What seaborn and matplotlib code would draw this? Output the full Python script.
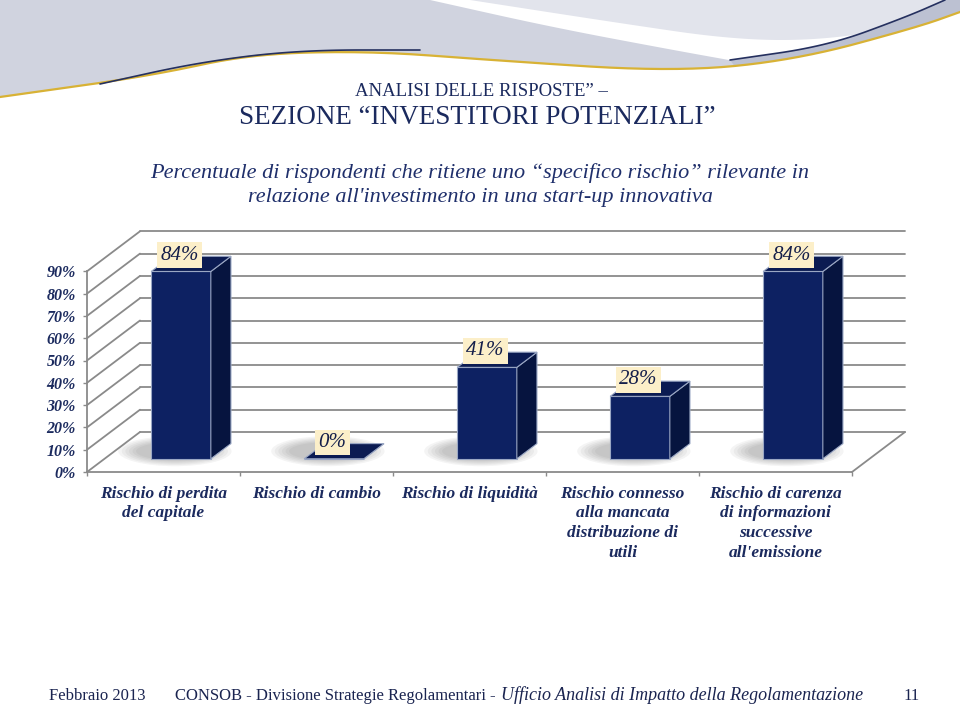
import numpy as np
import pandas as pd
import matplotlib
matplotlib.use("Agg")
import matplotlib.pyplot as plt
from matplotlib.patches import Polygon, Ellipse
import seaborn as sns

# -------------------------------
# Data
# -------------------------------
categories = ["Rischio di perdita\ndel capitale",
              "Rischio di cambio",
              "Rischio di liquidità",
              "Rischio connesso\nalla mancata\ndistribuzione di\nutili",
              "Rischio di carenza\ndi informazioni\nsuccessive\nall'emissione"]
values = [84, 0, 41, 28, 84]
y_ticks = [0, 10, 20, 30, 40, 50, 60, 70, 80, 90]
y_labels = [f"{t}%" for t in y_ticks]

title1 = "ANALISI DELLE RISPOSTE\u201d \u2013"
title2 = "SEZIONE \u201cINVESTITORI POTENZIALI\u201d"
subtitle = ("Percentuale di rispondenti che ritiene uno \u201cspecifico rischio\u201d rilevante in\n"
            "relazione all'investimento in una start-up innovativa")

df = pd.DataFrame({"Rischio": categories, "Valore": values})

NAVY = "#1B2A5E"
FRONT = "#0D2162"
SIDE = "#06143F"
TOP = "#0B1B52"
GRID = "#8A8A8A"

sns.set_style("white")
plt.rcParams["font.family"] = ["Liberation Serif", "DejaVu Serif"]

fig = plt.figure(figsize=(9.6, 7.2), dpi=100)
fig.patch.set_facecolor("white")

# -------------------------------
# Background decoration (slide template swoosh), pixel coords
# -------------------------------
bg = fig.add_axes([0, 0, 1, 1], zorder=-5)
bg.set_xlim(0, 960)
bg.set_ylim(720, 0)
bg.axis("off")


def smooth(pts, n=20):
    pts = np.asarray(pts, float)
    mids = (pts[:-1] + pts[1:]) / 2
    out = [pts[0], mids[0]]
    t = np.linspace(0, 1, n)[1:, None]
    for i in range(1, len(pts) - 1):
        a, c, b = mids[i - 1], pts[i], mids[i]
        out.extend((1 - t) ** 2 * a + 2 * (1 - t) * t * c + t ** 2 * b)
    out.append(pts[-1])
    return np.array(out)


gold = smooth([(0, 97), (150, 76), (250, 54), (370, 51), (490, 60), (673, 72),
               (796, 60), (918, 27), (960, 12)])
left_edge = smooth([(430, 0), (551, 27), (673, 50), (740, 62)])
gold_left = gold[gold[:, 0] <= 740][::-1]
bg.add_patch(Polygon(np.vstack([[(0, 0)], left_edge, gold_left]),
                     closed=True, fc="#D0D3DF", ec="none"))
right_edge = smooth([(960, 8), (918, 24), (827, 40), (735, 40), (612, 22), (470, 0)])
bg.add_patch(Polygon(np.vstack([[(960, 0)], right_edge]), closed=True,
                     fc="#E2E4EC", ec="none"))
navy_right = smooth([(730, 60), (827, 46), (906, 17), (945, 0)])
gold_right = gold[gold[:, 0] >= 730][::-1]
bg.add_patch(Polygon(np.vstack([navy_right, [(960, 0)], gold_right]), closed=True,
                     fc="#BCC1D2", ec="none"))
bg.plot(gold[:, 0], gold[:, 1], color="#D8B235", lw=1.6)
navy_left = smooth([(100, 84), (200, 62), (300, 50), (420, 50)])
bg.plot(navy_left[:, 0], navy_left[:, 1], color="#25305F", lw=1.2)
bg.plot(navy_right[:, 0], navy_right[:, 1], color="#25305F", lw=1.2)

# -------------------------------
# Titles
# -------------------------------
fig.text(481 / 960, 1 - 91 / 720, title1, ha="center", va="center",
         fontsize=13.5, color=NAVY)
fig.text(477 / 960, 1 - 118 / 720, title2, ha="center", va="center",
         fontsize=19.5, color=NAVY)
fig.text(480 / 960, 1 - 185 / 720, subtitle, ha="center", va="center",
         fontsize=16, style="italic", color="#1F2F6B", linespacing=1.38)

# -------------------------------
# Chart: front plane of the pseudo-3D box
# -------------------------------
ax = fig.add_axes([87 / 960, 1 - 472 / 720, 765 / 960, 200.7 / 720])
ax.set_facecolor("none")

DX = 53 / 153      # full depth offset, category units
DY = 40 / 2.23     # full depth offset, percent units
d0, d1 = 0.33, 0.71  # bar front / back depth

sns.barplot(data=df, x="Rischio", y="Valore", order=categories, ax=ax,
            width=0.39, color=FRONT, saturation=1)

ax.set_xlim(-0.5, 4.5)
ax.set_ylim(0, 90)

# walls and floor
xl, xr = -0.5, len(categories) - 0.5
for t in y_ticks:
    ax.plot([xl + DX, xr + DX], [t + DY, t + DY], color=GRID, lw=1.3,
            clip_on=False, zorder=1)
    ax.plot([xl, xl + DX], [t, t + DY], color=GRID, lw=1.3, clip_on=False, zorder=1)
ax.plot([xr, xr + DX], [0, DY], color=GRID, lw=1.3, clip_on=False, zorder=1)

# bars: shift front faces to their depth, add side and top faces
bd = d1 - d0
for i, p in enumerate(ax.patches):
    x0 = p.get_x() + d0 * DX
    w = p.get_width()
    h = values[i]
    y0 = d0 * DY
    p.set_x(x0)
    p.set_y(y0)
    p.set_edgecolor("#9AA7C4")
    p.set_linewidth(0.8)
    p.set_zorder(4)
    p.set_clip_on(False)
    # soft shadow on the floor
    cx = x0 + w / 2
    cy = (d0 + bd / 2) * DY
    for k in range(6):
        ax.add_patch(Ellipse((cx - 0.04, cy), w * (1.9 - 0.12 * k), DY * (0.75 - 0.06 * k),
                             fc="#4A4A4A", ec="none", alpha=0.06, zorder=2,
                             clip_on=False))
    side = [(x0 + w, y0), (x0 + w + bd * DX, y0 + bd * DY),
            (x0 + w + bd * DX, y0 + h + bd * DY), (x0 + w, y0 + h)]
    top = [(x0, y0 + h), (x0 + w, y0 + h), (x0 + w + bd * DX, y0 + h + bd * DY),
           (x0 + bd * DX, y0 + h + bd * DY)]
    ax.add_patch(Polygon(side, closed=True, fc=SIDE, ec="#9AA7C4", lw=0.8,
                         zorder=4, clip_on=False))
    ax.add_patch(Polygon(top, closed=True, fc=TOP, ec="#9AA7C4", lw=0.8,
                         zorder=4, clip_on=False))
    ax.annotate(f"{h}%", xy=(cx - 0.01, y0 + h), xytext=(0, 5),
                textcoords="offset points", ha="center", va="bottom",
                fontsize=15, style="italic", color="#141E4A", zorder=6,
                annotation_clip=False,
                bbox=dict(boxstyle="square,pad=0.15", fc="#FCEFC9", ec="none"))

# category labels under the floor
for i, cat in enumerate(categories):
    ax.annotate(cat, xy=(i, 0), xytext=(0, -10), textcoords="offset points",
                ha="center", va="top", fontsize=12.5, fontweight="bold",
                style="italic", color=NAVY, linespacing=1.3,
                annotation_clip=False)

# axes styling
for s in ["top", "right"]:
    ax.spines[s].set_visible(False)
for s in ["left", "bottom"]:
    ax.spines[s].set_color(GRID)
    ax.spines[s].set_linewidth(1.3)
ax.set_xlabel("")
ax.set_ylabel("")
ax.set_yticks(y_ticks)
ax.set_yticklabels(y_labels)
ax.set_xticks(np.arange(-0.5, len(categories), 1.0))
ax.set_xticklabels([])
ax.tick_params(axis="y", left=True, length=3, width=1, color=GRID, pad=5,
               labelsize=11.5, labelcolor=NAVY)
ax.tick_params(axis="x", which="major", bottom=True, length=3, width=1, color=GRID)
for lab in ax.get_yticklabels():
    lab.set_fontweight("bold")
    lab.set_fontstyle("italic")

# -------------------------------
# Footer
# -------------------------------
fy = 1 - 696 / 720
fig.text(49 / 960, fy, "Febbraio 2013", ha="left", va="center", fontsize=12,
         color="#1A2450")
t2 = fig.text(175 / 960, fy, "CONSOB - Divisione Strategie Regolamentari -",
              ha="left", va="center", fontsize=12, color="#1A2450")
bg.annotate("Ufficio Analisi di Impatto della Regolamentazione", xy=(1, 0),
            xycoords=t2, xytext=(4, 0), textcoords="offset points",
            ha="left", va="bottom", fontsize=13, style="italic", color="#1A2450")
fig.text(903 / 960, fy, "11", ha="left", va="center", fontsize=12, color="#1A2450")

fig.savefig("out.png", dpi=100)
